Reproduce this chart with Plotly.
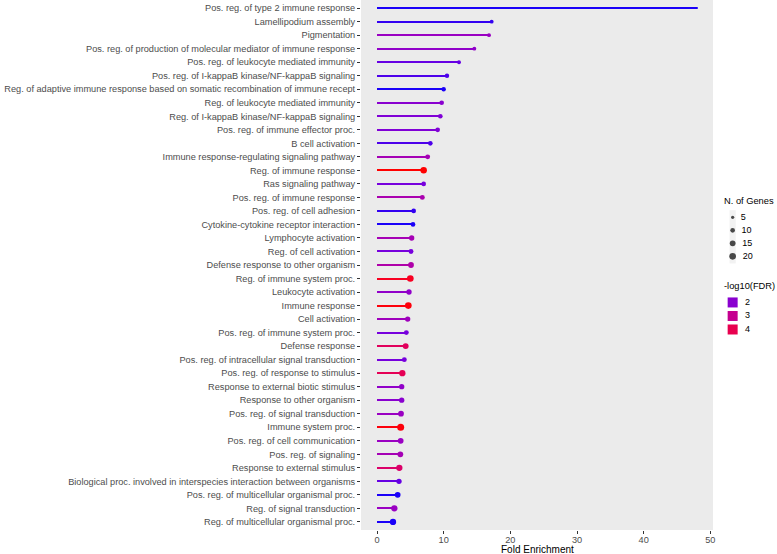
import plotly.graph_objects as go
import plotly.colors as pc
import numpy as np

terms = [
    "Pos. reg. of type 2 immune response",
    "Lamellipodium assembly",
    "Pigmentation",
    "Pos. reg. of production of molecular mediator of immune response",
    "Pos. reg. of leukocyte mediated immunity",
    "Pos. reg. of I-kappaB kinase/NF-kappaB signaling",
    "Reg. of adaptive immune response based on somatic recombination of immune recept",
    "Reg. of leukocyte mediated immunity",
    "Reg. of I-kappaB kinase/NF-kappaB signaling",
    "Pos. reg. of immune effector proc.",
    "B cell activation",
    "Immune response-regulating signaling pathway",
    "Reg. of immune response",
    "Ras signaling pathway",
    "Pos. reg. of immune response",
    "Pos. reg. of cell adhesion",
    "Cytokine-cytokine receptor interaction",
    "Lymphocyte activation",
    "Reg. of cell activation",
    "Defense response to other organism",
    "Reg. of immune system proc.",
    "Leukocyte activation",
    "Immune response",
    "Cell activation",
    "Pos. reg. of immune system proc.",
    "Defense response",
    "Pos. reg. of intracellular signal transduction",
    "Pos. reg. of response to stimulus",
    "Response to external biotic stimulus",
    "Response to other organism",
    "Pos. reg. of signal transduction",
    "Immune system proc.",
    "Pos. reg. of cell communication",
    "Pos. reg. of signaling",
    "Response to external stimulus",
    "Biological proc. involved in interspecies interaction between organisms",
    "Pos. reg. of multicellular organismal proc.",
    "Reg. of signal transduction",
    "Reg. of multicellular organismal proc.",
]

fold_enrichment = [48.0, 17.2, 16.8, 14.6, 12.3, 10.5, 10.0, 9.7, 9.5, 9.1,
                   8.0, 7.6, 7.0, 7.0, 6.8, 5.5, 5.4, 5.2, 5.1, 5.1,
                   5.0, 4.8, 4.7, 4.6, 4.4, 4.3, 4.1, 3.8, 3.7, 3.7,
                   3.6, 3.55, 3.55, 3.5, 3.35, 3.3, 3.1, 2.6, 2.4]

n_genes = [2, 7, 7, 7, 7, 9, 9, 10, 10, 10,
           10, 11, 19, 10, 11, 10, 10, 13, 11, 15,
           20, 13, 20, 13, 11, 16, 11, 18, 13, 13,
           15, 22, 15, 15, 18, 13, 15, 18, 18]

neg_log10_fdr = [1.4, 1.5, 2.2, 2.1, 1.7, 1.6, 1.4, 2.0, 1.9, 1.9,
                 1.6, 2.4, 4.9, 1.8, 2.5, 1.5, 1.4, 2.4, 1.8, 2.6,
                 4.6, 2.1, 4.8, 2.3, 1.8, 3.8, 1.8, 3.9, 2.1, 2.0,
                 2.2, 4.8, 2.2, 2.4, 3.6, 1.7, 1.4, 2.2, 1.4]

size_breaks = [5, 10, 15, 20]
fdr_breaks = [2, 3, 4]
x_ticks = [0, 10, 20, 30, 40, 50]

CMIN, CMAX = 1.3, 4.9
colorscale = [[0.0, "#0000FF"], [0.125, "#7300E0"], [0.25, "#9A00C2"],
              [0.5, "#CA0089"], [0.75, "#E8004F"], [0.875, "#F40031"],
              [1.0, "#FF0000"]]

FONT = "Liberation Sans, Arial, sans-serif"
TICK_SIZE = 9.2
W, H = 777, 554
ML, MB = 361, 24
PW, PH = W - ML, H - MB          # plotting area (px)
PANEL_RIGHT = 713                # right edge of the data panel (px)

def dot_size(n):
    n = np.asarray(n, dtype=float)
    return 2 + 1.526 * (np.sqrt(n) - np.sqrt(2))

def fdr_color(v):
    t = (v - CMIN) / (CMAX - CMIN)
    return pc.sample_colorscale(colorscale, [t])[0]

fig = go.Figure()

# lollipop stems
fig.add_trace(go.Bar(
    x=fold_enrichment, y=terms, orientation="h", width=0.15,
    marker=dict(color=neg_log10_fdr, colorscale=colorscale, cmin=CMIN, cmax=CMAX,
                line=dict(width=0)),
    showlegend=False, hoverinfo="skip",
))
# lollipop heads
fig.add_trace(go.Scatter(
    x=fold_enrichment, y=terms, mode="markers",
    marker=dict(size=dot_size(n_genes), color=neg_log10_fdr, colorscale=colorscale,
                cmin=CMIN, cmax=CMAX, line=dict(width=0), opacity=1),
    showlegend=False,
))

# ---- manual legends on an overlay axis (units: legend rows) ----
ROW = 13.0                       # px per legend row
LEG_TOP_PX, LEG_BOT_PX = 190, 345
leg_rows = (LEG_BOT_PX - LEG_TOP_PX) / ROW
size_title_row = 0.85
size_rows = [2.1 + i for i in range(len(size_breaks))]
col_title_row = 7.35
col_rows = [8.65 + i * 1.04 for i in range(len(fdr_breaks))]
LX0, LX1 = -1.2, 5.0             # legend axis range

fig.add_trace(go.Scatter(
    x=[0.0] * len(size_breaks), y=size_rows, xaxis="x2", yaxis="y2",
    mode="markers+text", text=[f"  {s}" for s in size_breaks],
    textposition="middle right", textfont=dict(family=FONT, size=9, color="black"),
    marker=dict(size=dot_size(size_breaks), color="black", line=dict(width=0)),
    showlegend=False, hoverinfo="skip", cliponaxis=False,
))
fig.add_trace(go.Scatter(
    x=[0.0] * len(fdr_breaks), y=col_rows, xaxis="x2", yaxis="y2",
    mode="markers+text", text=[f"  {f}" for f in fdr_breaks],
    textposition="middle right", textfont=dict(family=FONT, size=9, color="black"),
    marker=dict(size=10, symbol="square", color=[fdr_color(f) for f in fdr_breaks],
                line=dict(width=0)),
    showlegend=False, hoverinfo="skip", cliponaxis=False,
))

fig.update_layout(
    xaxis2=dict(domain=[(722 - ML) / PW, 1.0], range=[LX0, LX1], visible=False,
                fixedrange=True, anchor="y2"),
    yaxis2=dict(domain=[1 - LEG_BOT_PX / PH, 1 - LEG_TOP_PX / PH],
                range=[leg_rows, 0], visible=False, fixedrange=True, anchor="x2"),
)
for title, row in [("N. of Genes", size_title_row), ("-log10(FDR)", col_title_row)]:
    fig.add_annotation(text=title, x=LX0, y=row, xref="x2", yref="y2",
                       xanchor="left", yanchor="middle", showarrow=False,
                       font=dict(family=FONT, size=9.3, color="black"))
# legend key background for size keys
fig.add_shape(type="rect", xref="x2", yref="y2", x0=-0.35, x1=0.35,
              y0=size_rows[0] - 0.55, y1=size_rows[-1] + 0.55,
              fillcolor="#F2F2F2", line=dict(width=0), layer="below")

fig.add_annotation(text="Fold Enrichment", xref="paper", yref="paper",
                   x=((PANEL_RIGHT - ML) / PW) / 2, y=1 - 549 / PH,
                   xanchor="center", yanchor="middle", showarrow=False,
                   font=dict(family=FONT, size=10, color="black"))

fig.update_layout(
    width=W, height=H,
    margin=dict(l=ML, r=0, t=0, b=MB, pad=0),
    paper_bgcolor="white", plot_bgcolor="white",
    font=dict(family=FONT, size=TICK_SIZE, color="#4D4D4D"),
    bargap=0, showlegend=False,
    xaxis=dict(
        domain=[0, (PANEL_RIGHT - ML) / PW],
        range=[-2.4, 50.4], tickvals=x_ticks, showgrid=False, zeroline=False,
        ticks="outside", ticklen=3, tickcolor="#333333", tickwidth=1,
        tickfont=dict(family=FONT, size=TICK_SIZE, color="#4D4D4D"), automargin=False,
        ticklabelstandoff=-2,
    ),
    yaxis=dict(
        categoryorder="array", categoryarray=terms, range=[38.6, -0.6],
        showgrid=False, zeroline=False, ticks="outside", ticklen=3,
        tickcolor="#333333", tickwidth=1,
        tickfont=dict(family=FONT, size=TICK_SIZE, color="#4D4D4D"), automargin=False,
    ),
)
# grey panel background for the data area only
fig.add_shape(type="rect", xref="x domain", yref="y domain", x0=0, x1=1, y0=0, y1=1,
              fillcolor="#EBEBEB", line=dict(width=0), layer="below")

fig.write_html("out.html", config={"displayModeBar": False},
               post_script="document.body.style.margin='0px';document.body.style.overflow='hidden';")
